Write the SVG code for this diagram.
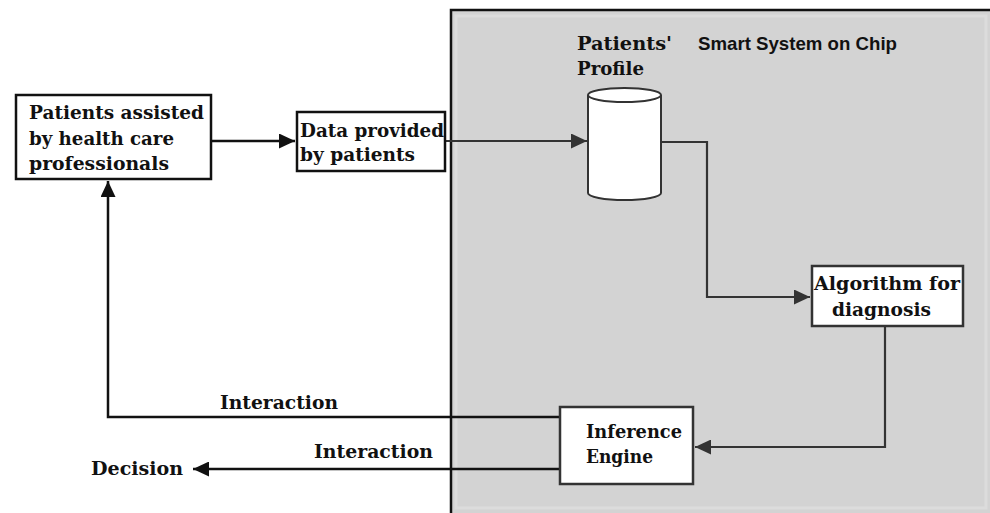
<svg xmlns="http://www.w3.org/2000/svg" width="990" height="513" viewBox="0 0 990 513">
<style>
.t{font-family:"DejaVu Serif","Liberation Serif",serif;font-weight:bold;font-size:18px;fill:#111}
.s{font-family:"Liberation Sans",Arial,sans-serif;font-weight:bold;font-size:19px;fill:#111}
.box{fill:#fff;stroke:#111;stroke-width:2.5}
.ibox{fill:#fff;stroke:#333;stroke-width:2.5}
.c{fill:none;stroke:#111;stroke-width:2.5}
.ci{fill:none;stroke:#333;stroke-width:2.2}
</style>
<defs>
<marker id="ah" markerUnits="userSpaceOnUse" markerWidth="17" markerHeight="15" refX="16" refY="7.5" orient="auto">
<path d="M0,0 L16,7.5 L0,15 Z" fill="#111"/>
</marker>
<marker id="ahg" markerUnits="userSpaceOnUse" markerWidth="17" markerHeight="15" refX="16" refY="7.5" orient="auto">
<path d="M0,0 L16,7.5 L0,15 Z" fill="#333"/>
</marker>
</defs>
<rect width="990" height="513" fill="#fff"/>
<g id="panel">
<rect x="451" y="10" width="545" height="510" fill="#d3d3d3" stroke="#111" stroke-width="2.5"/>
<rect x="456" y="16" width="530" height="492" fill="none" stroke="#dcdcdc" stroke-width="3"/>
<text class="s" x="698" y="50" textLength="199" lengthAdjust="spacingAndGlyphs">Smart System on Chip</text>
</g>
<g id="connectors">
<path class="c" d="M211,141 H295" marker-end="url(#ah)"/>
<path class="ci" d="M445,141 H587" marker-end="url(#ahg)"/>
<path class="ci" d="M661,142 H707 V297 H810" marker-end="url(#ahg)"/>
<path class="ci" d="M885,326 V447 H695" marker-end="url(#ahg)"/>
<path class="c" d="M560,417 H108 V181" marker-end="url(#ah)"/>
<path class="c" d="M560,469 H193" marker-end="url(#ah)"/>
<text class="t" x="220" y="409" textLength="118" lengthAdjust="spacingAndGlyphs">Interaction</text>
<text class="t" x="314" y="458" textLength="119" lengthAdjust="spacingAndGlyphs">Interaction</text>
</g>
<g id="patients-assisted">
<rect class="box" x="16" y="95" width="195" height="84"/>
<text class="t" x="29" y="119" textLength="175" lengthAdjust="spacingAndGlyphs">Patients assisted</text>
<text class="t" x="29" y="145" textLength="145" lengthAdjust="spacingAndGlyphs">by health care</text>
<text class="t" x="29" y="170" textLength="140" lengthAdjust="spacingAndGlyphs">professionals</text>
</g>
<g id="data-provided">
<rect class="box" x="297" y="112" width="148" height="59"/>
<text class="t" x="300" y="137" textLength="144" lengthAdjust="spacingAndGlyphs">Data provided</text>
<text class="t" x="300" y="161" textLength="115" lengthAdjust="spacingAndGlyphs">by patients</text>
</g>
<g id="patients-profile">
<text class="t" x="577" y="50" textLength="95" lengthAdjust="spacingAndGlyphs" style="font-size:19px">Patients'</text>
<text class="t" x="577" y="75" textLength="67" lengthAdjust="spacingAndGlyphs" style="font-size:19px">Profile</text>
<path d="M588,95 V193 A36.5,7 0 0 0 661,193 V95" fill="#fff" stroke="#333" stroke-width="2"/>
<ellipse cx="624.5" cy="95" rx="36.5" ry="7" fill="#fff" stroke="#333" stroke-width="2"/>
</g>
<g id="algorithm">
<rect class="ibox" x="812" y="266" width="151" height="60"/>
<text class="t" x="814" y="290" textLength="146" lengthAdjust="spacingAndGlyphs">Algorithm for</text>
<text class="t" x="832" y="316" textLength="99" lengthAdjust="spacingAndGlyphs">diagnosis</text>
</g>
<g id="inference">
<rect class="ibox" x="560" y="407" width="133" height="77"/>
<text class="t" x="586" y="438" textLength="96" lengthAdjust="spacingAndGlyphs">Inference</text>
<text class="t" x="586" y="463" textLength="67" lengthAdjust="spacingAndGlyphs">Engine</text>
</g>
<g id="decision">
<text class="t" x="91" y="475" textLength="92" lengthAdjust="spacingAndGlyphs">Decision</text>
</g>
</svg>
